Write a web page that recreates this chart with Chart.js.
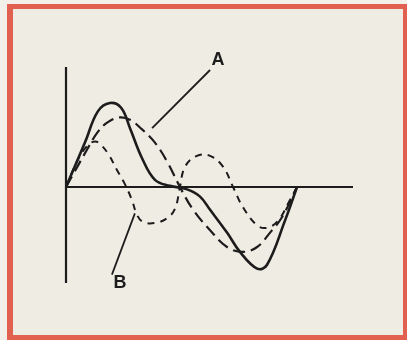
<!DOCTYPE html>
<html>
<head>
<meta charset="utf-8">
<script src="https://cdn.jsdelivr.net/npm/chart.js@4/dist/chart.umd.min.js"></script>
<style>
  html, body { margin: 0; padding: 0; background: #f3f0e9; }
  body { width: 407px; height: 340px; position: relative; overflow: hidden; }
  .frame {
    position: absolute; left: 7px; top: 4px; right: 0; bottom: 0;
    border-style: solid; border-color: #e2604f;
    border-width: 5px 4px 5px 6px;
    background: #efece4;
  }
  #c { position: absolute; left: 0; top: 0; }
</style>
</head>
<body>
<div class="frame"></div>
<canvas id="c" width="407" height="340"></canvas>
<script>
// waveform data (time 0..10, amplitude -0.8..1.0)
const solidX = [0, 0.66, 1.11, 1.53, 1.92, 2.23, 2.65, 3.10, 3.62, 4.22, 4.67, 5.02, 5.61, 6.06, 6.66, 7.00, 7.63, 8.05];
const solidY = [0, 0.37, 0.63, 0.70, 0.66, 0.49, 0.24, 0.06, 0.01, -0.02, -0.08, -0.19, -0.38, -0.54, -0.68, -0.65, -0.28, 0];

const longX = [0, 0.73, 1.11, 1.46, 1.88, 2.23, 2.65, 3.10, 3.55, 3.97, 4.43, 5.02, 5.61, 6.17, 6.66, 7.11, 7.53, 8.05];
const longY = [0, 0.31, 0.46, 0.54, 0.58, 0.56, 0.48, 0.37, 0.20, 0, -0.19, -0.36, -0.50, -0.54, -0.50, -0.38, -0.25, 0];

const shortX = [0, 0.42, 0.77, 1.01, 1.18, 1.46, 1.78, 2.06, 2.30, 2.47, 2.68, 3.10, 3.52, 3.80, 3.97, 4.15, 4.56, 5.02, 5.47, 5.82, 6.17, 6.66, 7.00, 7.39, 7.80, 8.05];
const shortY = [0, 0.23, 0.35, 0.38, 0.36, 0.28, 0.14, 0.02, -0.11, -0.23, -0.29, -0.30, -0.26, -0.18, 0, 0.17, 0.26, 0.26, 0.17, 0, -0.17, -0.32, -0.34, -0.28, -0.11, 0];

// axes and leader lines
const axisHX = [0, 10], axisHY = [0, 0];
const axisVX = [0, 0], axisVY = [-0.8, 1.0];
const leaderAX = [3.00, 5.02], leaderAY = [0.49, 0.975];
const leaderBX = [2.40, 1.60], leaderBY = [-0.22, -0.73];

const labelText = ['A', 'B'];
const labelX = [5.30, 1.88];
const labelY = [1.06, -0.80];

const ink = '#1c1c1c';
const pts = (xs, ys) => xs.map((x, i) => ({ x, y: ys[i] }));

function line(xs, ys, width, dash, tension) {
  return {
    data: pts(xs, ys),
    borderColor: ink,
    borderWidth: width,
    borderDash: dash || [],
    pointRadius: 0,
    fill: false,
    clip: false,
    tension: tension || 0
  };
}

const labelPlugin = {
  id: 'labels',
  afterDatasetsDraw(chart) {
    const { ctx, scales } = chart;
    ctx.save();
    ctx.fillStyle = ink;
    ctx.font = 'bold 18px "Liberation Sans", Arial, sans-serif';
    ctx.textAlign = 'center';
    ctx.textBaseline = 'middle';
    labelText.forEach((t, i) => {
      ctx.fillText(t, scales.x.getPixelForValue(labelX[i]), scales.y.getPixelForValue(labelY[i]));
    });
    ctx.restore();
  }
};

new Chart(document.getElementById('c'), {
  type: 'line',
  data: {
    datasets: [
      line(solidX, solidY, 2.6, null, 0.4),
      line(longX, longY, 2.2, [12, 6], 0.4),
      line(shortX, shortY, 2.0, [7, 6], 0.4),
      line(axisHX, axisHY, 2.2),
      line(axisVX, axisVY, 2.2),
      line(leaderAX, leaderAY, 1.8),
      line(leaderBX, leaderBY, 1.8)
    ]
  },
  options: {
    responsive: false,
    animation: false,
    layout: { padding: { left: 66, right: 54, top: 67, bottom: 57 } },
    plugins: { legend: { display: false }, tooltip: { enabled: false } },
    scales: {
      x: { type: 'linear', min: 0, max: 10, display: false },
      y: { type: 'linear', min: -0.8, max: 1.0, display: false }
    }
  },
  plugins: [labelPlugin]
});
</script>
</body>
</html>
